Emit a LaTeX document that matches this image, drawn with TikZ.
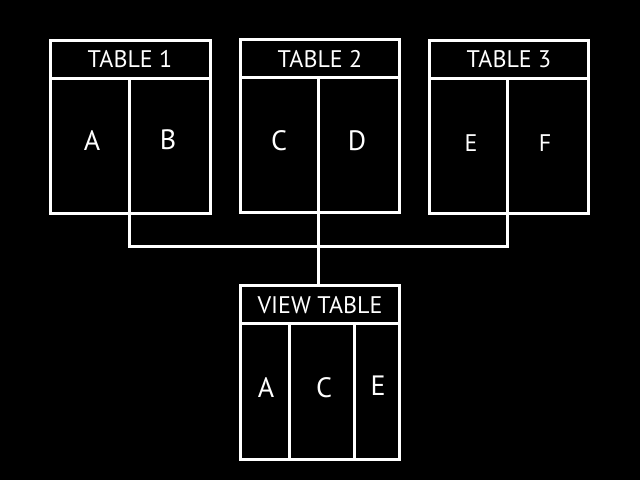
\documentclass[tikz,border=0pt]{standalone}
\usepackage{fontspec}
\setmainfont{PT Sans}
\begin{document}
\begin{tikzpicture}[x=1pt,y=-1pt,
  line/.style={draw=white,line width=3pt},
  hdr/.style={text=white,font=\fontsize{24}{28}\selectfont,inner sep=0pt},
  big/.style={text=white,font=\fontsize{28}{32}\selectfont,inner sep=0pt},
  small/.style={text=white,font=\fontsize{24}{28}\selectfont,inner sep=0pt}]
\fill[black] (0,0) rectangle (640,480);
\useasboundingbox (0,0) rectangle (640,480);
% Table 1
\draw[line] (50,40) rectangle (210,213);
\draw[line] (50,78) -- (210,78);
\draw[line] (129,78) -- (129,213);
\node[hdr] (h1) at (130,59) {TABLE 1};
\node[big] (a1) at (92,141) {A};
\node[big] (b1) at (168,140) {B};
% Table 2
\draw[line] (240,39) rectangle (399,212);
\draw[line] (240,77) -- (399,77);
\draw[line] (318,77) -- (318,212);
\node[hdr] (h2) at (320,59) {TABLE 2};
\node[big] (c2) at (279,141) {C};
\node[big] (d2) at (357,141) {D};
% Table 3
\draw[line] (429,40) rectangle (588,213);
\draw[line] (429,78) -- (588,78);
\draw[line] (507,78) -- (507,213);
\node[hdr] (h3) at (509,59) {TABLE 3};
\node[small] (e3) at (471,143) {E};
\node[small] (f3) at (545,143) {F};
% View table
\draw[line] (240,285) rectangle (399,459);
\draw[line] (240,323) -- (399,323);
\draw[line] (289,323) -- (289,459);
\draw[line] (354,323) -- (354,459);
\node[hdr] (hv) at (320,305) {VIEW TABLE};
\node[big] (av) at (266,388) {A};
\node[big] (cv) at (324,388) {C};
\node[big] (ev) at (378,386) {E};
% connectors
\coordinate (t1b) at (129,213);
\coordinate (t2b) at (318,212);
\coordinate (t3b) at (507,213);
\coordinate (vt) at (318,285);
\draw[line] (t1b) -- ++(0,33) -| (t3b);
\draw[line] (t2b) -- (vt);
\end{tikzpicture}
\end{document}
